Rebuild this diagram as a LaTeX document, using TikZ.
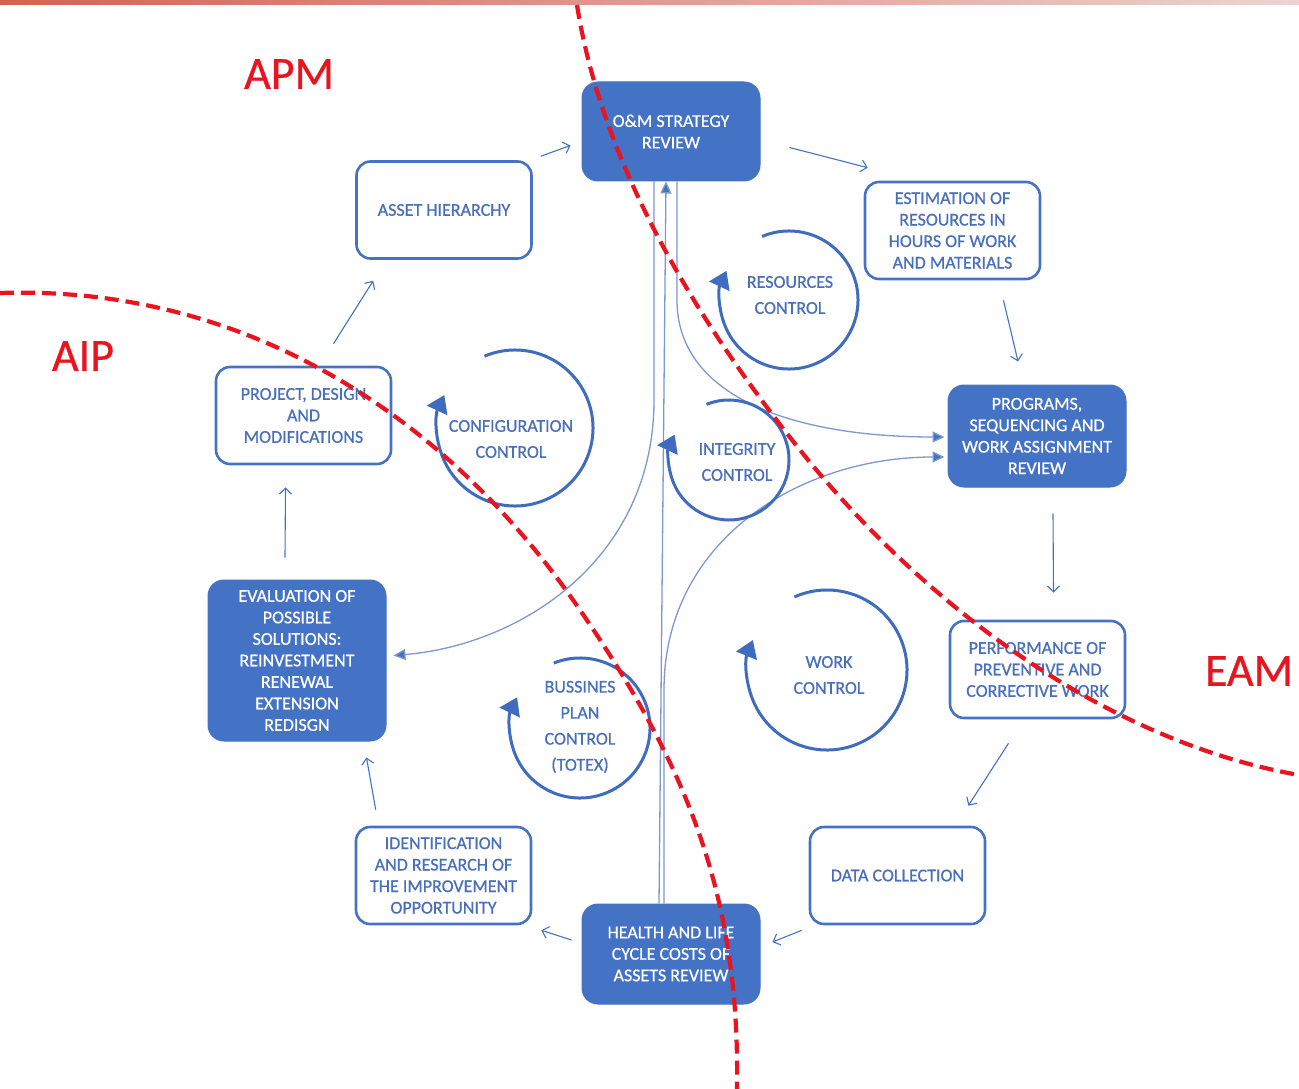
\documentclass[tikz,border=0pt]{standalone}
\usepackage{fontspec}
\setmainfont{Carlito}
\newfontfamily\heavyface{Carlito}[FakeBold=0.6]
\usetikzlibrary{arrows.meta,calc}
\definecolor{boxblue}{RGB}{68,114,196}
\definecolor{textblue}{RGB}{72,110,190}
\definecolor{linkblue}{RGB}{125,152,208}
\definecolor{loopblue}{RGB}{64,108,192}
\definecolor{zonered}{RGB}{232,20,32}
\definecolor{barleft}{RGB}{212,98,84}
\definecolor{barright}{RGB}{236,212,208}
\begin{document}
\begin{tikzpicture}[x=1pt,y=-1pt,
  boxfont/.style={font=\heavyface\fontsize{18}{21.5}\selectfont},
  fillbox/.style={boxfont, rectangle, rounded corners=16pt, fill=boxblue, draw=boxblue,
    line width=1pt, text=white, minimum width=177pt, minimum height=99pt, align=center, inner sep=0pt},
  outbox/.style={boxfont, rectangle, rounded corners=14pt, fill=white, draw=boxblue,
    line width=2.6pt, text=textblue, minimum width=175pt, minimum height=97pt, align=center, inner sep=0pt},
  looplabel/.style={font=\heavyface\fontsize{18}{26}\selectfont, text=textblue, align=center, inner sep=0pt},
  zonelabel/.style={font=\heavyface\fontsize{46}{50}\selectfont, text=zonered, inner sep=0pt},
  loopline/.style={draw=loopblue, line width=3pt, -{Triangle[length=17pt,width=22pt]}},
  cyclearrow/.style={draw=boxblue, line width=1.1pt, -{Straight Barb[length=6pt,width=12pt]}},
  linkline/.style={draw=linkblue, line width=1.3pt, -{Triangle[length=12pt,width=11pt,fill=boxblue]}},
  zoneline/.style={draw=zonered, line width=4.2pt, dash pattern=on 14pt off 7pt}
]
\useasboundingbox (0,0) rectangle (1299,1089);
\fill[white] (0,0) rectangle (1299,1089);
\shade[left color=barleft, right color=barright] (0,0) rectangle (1299,5);

% process boxes
\node[fillbox, minimum width=178pt] (om) at (671,131.5) {O\&M STRATEGY\\REVIEW};
\node[outbox] (asset) at (444,210) {ASSET HIERARCHY};
\node[outbox] (estim) at (952.5,230.5) {ESTIMATION OF\\RESOURCES IN\\HOURS OF WORK\\AND MATERIALS};
\node[fillbox, minimum width=178pt, minimum height=102pt] (prog) at (1037,436) {PROGRAMS,\\SEQUENCING AND\\WORK ASSIGNMENT\\REVIEW};
\node[outbox] (proj) at (303.5,415.5) {PROJECT, DESIGN\\AND\\MODIFICATIONS};
\node[fillbox, minimum width=178pt, minimum height=161pt] (evalu) at (297,660.5) {EVALUATION OF\\POSSIBLE\\SOLUTIONS:\\REINVESTMENT\\RENEWAL\\EXTENSION\\REDISGN};
\node[outbox] (perf) at (1037.5,669.5) {PERFORMANCE OF\\PREVENTIVE AND\\CORRECTIVE WORK};
\node[outbox] (datac) at (897.5,875.5) {DATA COLLECTION};
\node[fillbox, minimum width=178pt, minimum height=100pt] (health) at (671,954) {HEALTH AND LIFE\\CYCLE COSTS OF\\ASSETS REVIEW};
\node[outbox] (ident) at (443.5,875.5) {IDENTIFICATION\\AND RESEARCH OF\\THE IMPROVEMENT\\OPPORTUNITY};

% outer cycle
\draw[cyclearrow] ($(asset.north east)+(8,-4)$) -- ($(om.west)+(-11,14)$);
\draw[cyclearrow] ($(om.east)+(29,16)$) -- ($(estim.north west)+(4,-13)$);
\draw[cyclearrow] ($(estim.south)+(51,20)$) -- ($(prog.north)+(-19,-23)$);
\draw[cyclearrow] ($(prog.south)+(16,26)$) -- ($(perf.north)+(16,-27)$);
\draw[cyclearrow] ($(perf.south)+(-29,24)$) -- ($(datac.north east)+(-18,-20)$);
\draw[cyclearrow] ($(datac.south west)+(-7,5)$) -- ($(health.east)+(12,-12)$);
\draw[cyclearrow] ($(health.west)+(-10,-14)$) -- ($(ident.south east)+(9,5)$);
\draw[cyclearrow] ($(ident.north west)+(21,-16)$) -- ($(evalu.south east)+(-20,16)$);
\draw[cyclearrow] ($(evalu.north)+(-12,-22)$) -- ($(proj.south)+(-18,22)$);
\draw[cyclearrow] ($(proj.north)+(30,-22)$) -- ($(asset.south west)+(18,21)$);

% central links
\draw[linkline] ($(health.north)+(-12,0)$) -- ($(om.south)+(-5,0)$);
\draw[linkline] ($(om.south)+(-17,0)$) -- (654,400) .. controls (654,560) and (520,645) .. ($(evalu.east)+(7,-5)$);
\draw[linkline] ($(om.south)+(6,0)$) -- (677,300) .. controls (677,400) and (800,437) .. ($(prog.west)+(-3,1)$);
\draw[linkline] ($(health.north)+(-7,0)$) -- (664,690) .. controls (664,540) and (800,457) .. ($(prog.west)+(-3,21)$);

% control loops
\coordinate (resC) at (789,300);
\coordinate (confC) at (515,428);
\coordinate (integC) at (729,460);
\coordinate (bussC) at (580,728);
\coordinate (workC) at (827,670);
\draw[loopline] ($(resC)+(247:69)$) arc[start angle=247, end angle=565, radius=69];
\draw[loopline] ($(confC)+(247:78)$) arc[start angle=247, end angle=565, radius=78];
\draw[loopline] ($(integC)+(248:60)$) arc[start angle=248, end angle=565, radius=60];
\draw[loopline] ($(bussC)+(248:70)$) arc[start angle=248, end angle=566, radius=70];
\draw[loopline] ($(workC)+(246:80)$) arc[start angle=246, end angle=562, radius=80];
\node[looplabel] (resl) at (790,295) {RESOURCES\\CONTROL};
\node[looplabel] (confl) at (511,439) {CONFIGURATION\\CONTROL};
\node[looplabel] (integl) at (737,462) {INTEGRITY\\CONTROL};
\node[looplabel] (bussl) at (580,727) {BUSSINES\\PLAN\\CONTROL\\(TOTEX)};
\node[looplabel] (workl) at (829,675) {WORK\\CONTROL};

% zone borders
\draw[zoneline] (577,5) .. controls (600,150) and (680,300) .. (800,450)
  .. controls (920,600) and (1100,740) .. (1299,775);
\draw[zoneline] (0,293) .. controls (250,285) and (450,420) .. (580,610)
  .. controls (690,770) and (740,900) .. (737,1089);

% zone names
\node[zonelabel] (apm) at (289,74) {APM};
\node[zonelabel] (aip) at (83,356) {AIP};
\node[zonelabel] (eam) at (1249,671) {EAM};
\end{tikzpicture}
\end{document}
